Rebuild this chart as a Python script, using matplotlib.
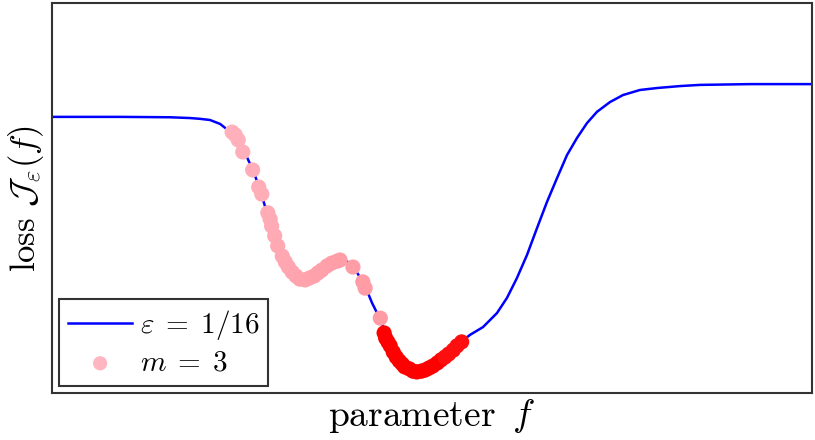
import matplotlib
matplotlib.use("Agg")
import matplotlib.pyplot as plt
from matplotlib.colors import LinearSegmentedColormap

plt.rcParams['mathtext.fontset'] = 'cm'
plt.rcParams['font.family'] = ['cmr10', 'DejaVu Serif']
plt.rcParams['axes.unicode_minus'] = False

# loss curve for eps = 1/16
f_curve = [0.000, 0.895, 1.553, 1.816, 1.947, 2.079, 2.211, 2.316, 2.382, 2.474,
           2.539, 2.645, 2.737, 2.829, 2.908, 3.000, 3.132, 3.211, 3.289, 3.368,
           3.434, 3.500, 3.566, 3.632, 3.697, 3.763, 3.829, 3.895, 3.961, 4.026,
           4.092, 4.158, 4.211, 4.316, 4.408, 4.474, 4.539, 4.605, 4.671, 4.737,
           4.816, 4.908, 5.013, 5.105, 5.197, 5.303, 5.395, 5.500, 5.671, 5.855,
           5.987, 6.118, 6.250, 6.382, 6.513, 6.645, 6.776, 6.908, 7.039, 7.171,
           7.342, 7.513, 7.737, 7.961, 8.263, 8.526, 9.184, 10.000]
loss_curve = [0.708, 0.708, 0.707, 0.705, 0.703, 0.700, 0.690, 0.674, 0.662, 0.636,
              0.615, 0.572, 0.521, 0.462, 0.410, 0.364, 0.321, 0.303, 0.290, 0.292,
              0.300, 0.313, 0.326, 0.336, 0.341, 0.344, 0.341, 0.336, 0.323, 0.305,
              0.282, 0.256, 0.231, 0.190, 0.144, 0.118, 0.092, 0.077, 0.067, 0.059,
              0.056, 0.062, 0.074, 0.087, 0.100, 0.118, 0.133, 0.149, 0.169, 0.205,
              0.244, 0.295, 0.354, 0.423, 0.490, 0.551, 0.610, 0.654, 0.692, 0.721,
              0.746, 0.764, 0.777, 0.782, 0.787, 0.790, 0.792, 0.792]

# iterates for m = 3 (early ones pink, late ones red)
f_pts = [2.37, 2.41, 2.45, 2.51, 2.64, 2.72, 2.76, 2.84, 2.87, 2.89, 2.93, 2.97,
         3.03, 3.07, 3.11, 3.16, 3.21, 3.26, 3.33, 3.39, 3.45, 3.50, 3.55, 3.62,
         3.68, 3.75, 3.79, 3.96, 4.09, 4.12, 4.32,
         4.37, 4.39, 4.42, 4.45, 4.49, 4.53, 4.57, 4.61, 4.64, 4.70, 4.75, 4.80,
         4.86, 4.91, 4.96, 5.01, 5.07, 5.12, 5.17, 5.22, 5.28, 5.33, 5.39]
loss_pts = [0.669, 0.662, 0.649, 0.618, 0.572, 0.528, 0.510, 0.462, 0.446, 0.428,
            0.403, 0.377, 0.351, 0.336, 0.323, 0.310, 0.300, 0.292, 0.290, 0.295,
            0.300, 0.308, 0.315, 0.326, 0.333, 0.338, 0.341, 0.323, 0.285, 0.269,
            0.192,
            0.154, 0.141, 0.131, 0.121, 0.105, 0.092, 0.082, 0.074, 0.067, 0.062,
            0.056, 0.054, 0.056, 0.059, 0.064, 0.069, 0.077, 0.085, 0.092, 0.100,
            0.110, 0.121, 0.131]
n_pink = 31

# colour shade per point: 0 = light pink, 1 = red
shade = [0.03 + 0.12 * i / (n_pink - 1) for i in range(n_pink)]
n_red = len(f_pts) - n_pink
shade += [1.0 if i < n_red - 5 else 0.92 for i in range(n_red)]
cmap = LinearSegmentedColormap.from_list("pinkred", ["#ffb6c1", "#ff0000"])

fig = plt.figure(figsize=(8.15, 4.4), dpi=100)
ax = fig.add_axes([52 / 815, 1 - 393 / 440, 760 / 815, 390 / 440])

ax.plot(f_curve, loss_curve, color="#0000ff", lw=1.8, label=r"$\varepsilon\;=\;1/16$", zorder=2)
ax.scatter(f_pts, loss_pts, c=shade, cmap=cmap, vmin=0, vmax=1, s=120,
           edgecolors="none", zorder=3)
# legend entry for the iterates
ax.scatter([], [], color="#ffb6c1", s=105, edgecolors="none", label=r"$m\;=\;3$")

ax.set_xlim(0, 10)
ax.set_ylim(0, 1)
ax.set_xticks([])
ax.set_yticks([])
for sp in ax.spines.values():
    sp.set_color("#333333")
    sp.set_linewidth(1.5)

ax.set_xlabel(r"parameter $\,f$", fontsize=27, labelpad=3)
ax.set_ylabel(r"loss $\mathcal{J}_\varepsilon(f)$", fontsize=25, labelpad=4)

leg = ax.legend(loc="lower left", fontsize=21, fancybox=False, framealpha=1,
                edgecolor="#333333", borderaxespad=0.25, handlelength=2.2,
                handletextpad=0.25, borderpad=0.3, labelspacing=0.3)
leg.get_frame().set_linewidth(1.5)

fig.savefig("out.png", dpi=100)
